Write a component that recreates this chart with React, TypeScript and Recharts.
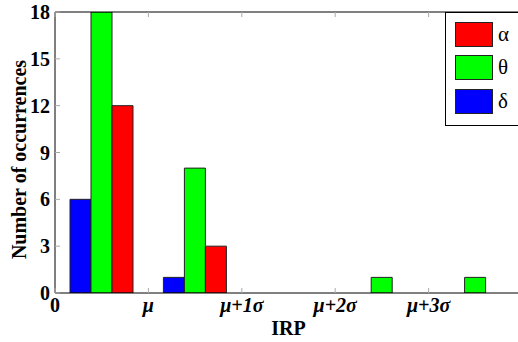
import { Bar, BarChart, Legend, ReferenceLine, XAxis, YAxis } from "recharts"

// bin centres (in units of the IRP axis) and counts per band
const bins = [0.5, 1.5, 2.5, 3.5, 4.5]
const alphaCounts = [12, 3, 0, 0, 0]
const thetaCounts = [18, 8, 0, 1, 1]
const deltaCounts = [6, 1, 0, 0, 0]

const xTicks = [0, 1, 2, 3, 4]
const xTickLabels = ["0", "μ", "μ+1σ", "μ+2σ", "μ+3σ"]
const yTicks = [0, 3, 6, 9, 12, 15, 18]

const legendItems = [
  { name: "α", color: "#ff0000" },
  { name: "θ", color: "#00ff00" },
  { name: "δ", color: "#0000ff" },
]

const rows = bins.map((x, i) => ({
  x,
  alpha: alphaCounts[i],
  theta: thetaCounts[i],
  delta: deltaCounts[i],
}))

const FONT = "'Liberation Serif', 'Times New Roman', serif"

function XTick(props: any) {
  const { x, y, payload } = props
  const label = xTickLabels[xTicks.indexOf(payload.value)]
  return (
    <g>
      <line x1={x} y1={y} x2={x} y2={y - 5} stroke="#aaa" />
      <line x1={x} y1={12} x2={x} y2={17} stroke="#aaa" />
      <text
        x={x}
        y={y + 5}
        dy="0.71em"
        textAnchor="middle"
        fill="#000"
        style={{ fontFamily: FONT, fontSize: 20, fontWeight: "bold", fontStyle: label === "0" ? "normal" : "italic" }}
      >
        {label}
      </text>
    </g>
  )
}

function YTick(props: any) {
  const { x, y, payload } = props
  return (
    <g>
      <line x1={x} y1={y} x2={x + 5} y2={y} stroke="#aaa" />
      <text
        x={x - 5}
        y={y}
        dy="0.35em"
        textAnchor="end"
        fill="#000"
        style={{ fontFamily: FONT, fontSize: 20, fontWeight: "bold" }}
      >
        {payload.value}
      </text>
    </g>
  )
}

function YLabel(props: any) {
  const { viewBox } = props
  const cx = 19
  const cy = viewBox.y + viewBox.height / 2 + 7
  return (
    <text
      x={cx}
      y={cy}
      dy="0.35em"
      textAnchor="middle"
      transform={`rotate(-90, ${cx}, ${cy})`}
      fill="#000"
      style={{ fontFamily: FONT, fontSize: 20, fontWeight: "bold" }}
    >
      Number of occurrences
    </text>
  )
}

function LegendBox() {
  return (
    <div
      style={{
        border: "1px solid #000",
        background: "#fff",
        width: 90,
        height: 114,
        boxSizing: "border-box",
        paddingTop: 5,
        paddingLeft: 9,
      }}
    >
      {legendItems.map((item) => (
        <div key={item.name} style={{ display: "flex", alignItems: "center", height: 33.3 }}>
          <div
            style={{
              width: 38,
              height: 25,
              background: item.color,
              border: "1px solid #222",
              boxSizing: "border-box",
            }}
          />
          <span style={{ marginLeft: 5, fontFamily: FONT, fontSize: 21, color: "#000", lineHeight: "25px" }}>
            {item.name}
          </span>
        </div>
      ))}
    </div>
  )
}

export default function App() {
  return (
    <div style={{ position: "absolute", left: 0, top: 0, width: 518, height: 342, overflow: "hidden", background: "#fff" }}>
      <BarChart width={522} height={342} data={rows} margin={{ top: 12, right: 0, left: 0, bottom: 0 }} barGap={0}>
        <XAxis
          dataKey="x"
          type="number"
          domain={[0, 5]}
          ticks={xTicks}
          allowDataOverflow
          height={49}
          tickSize={0}
          tickMargin={0}
          tick={XTick}
          axisLine={{ stroke: "#000" }}
          label={{
            value: "IRP",
            position: "insideBottom",
            offset: 7,
            fill: "#000",
            style: { fontFamily: FONT, fontSize: 20, fontWeight: "bold" },
          }}
        />
        <YAxis
          width={55}
          domain={[0, 18]}
          ticks={yTicks}
          allowDataOverflow
          tickSize={0}
          tickMargin={0}
          tick={YTick}
          axisLine={{ stroke: "#000" }}
          label={{ content: YLabel }}
        />
        <ReferenceLine y={18} stroke="#000" />
        <Legend
          layout="horizontal"
          align="center"
          verticalAlign="middle"
          content={() => <LegendBox />}
          wrapperStyle={{ position: "absolute", left: 445, top: 12, width: 90, height: 114 }}
        />
        <Bar dataKey="delta" name="δ" fill="#0000ff" stroke="#222" barSize={21} isAnimationActive={false} />
        <Bar dataKey="theta" name="θ" fill="#00ff00" stroke="#222" barSize={21} isAnimationActive={false} />
        <Bar dataKey="alpha" name="α" fill="#ff0000" stroke="#222" barSize={21} isAnimationActive={false} />
      </BarChart>
    </div>
  )
}
